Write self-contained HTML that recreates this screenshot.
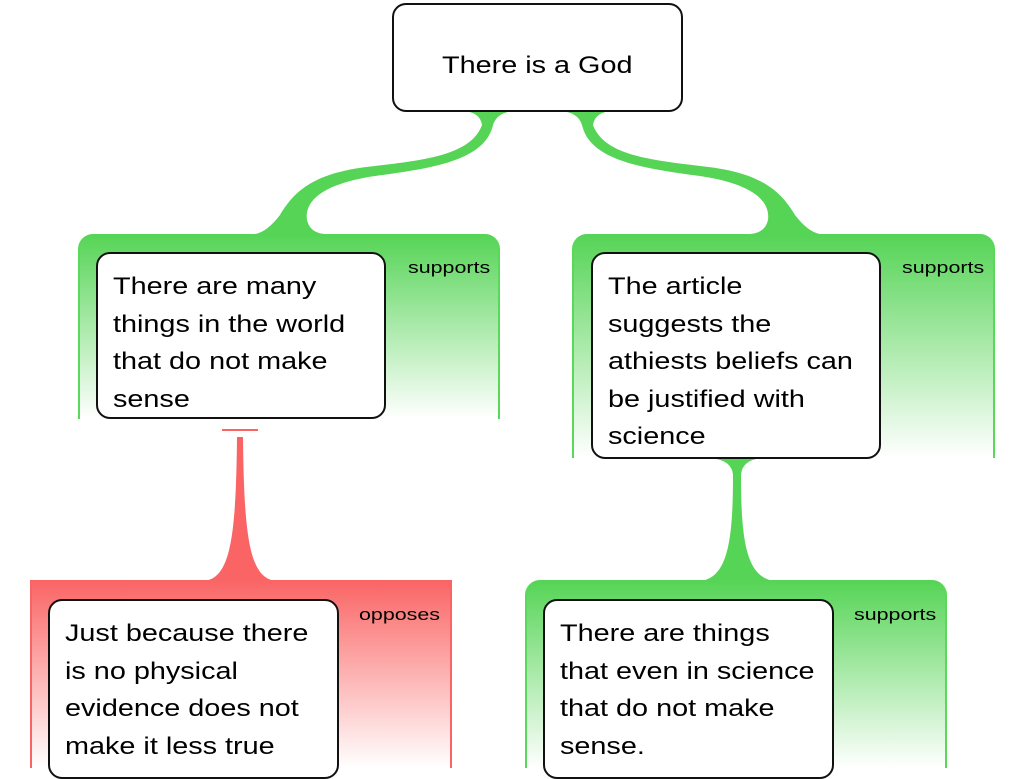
<!DOCTYPE html>
<html><head><style>
body{margin:0;width:1024px;height:768px;overflow:hidden;background:#fff;font-family:"Liberation Sans",sans-serif;position:relative}
.p{position:absolute;box-sizing:border-box}
.g{border-left:2px solid #5ad85a;border-right:2px solid #5ad85a;border-radius:15px 15px 0 0;background:linear-gradient(#55d455,#fff)}
.r{border-left:2px solid #fa6464;border-right:2px solid #fa6464;background:linear-gradient(#fa6464,#fff)}
.n{position:absolute;box-sizing:border-box;background:#fff;border:2px solid #111;border-radius:14px;font-size:24px;line-height:37.5px;padding:14px 0 0 15px;color:#000;white-space:nowrap}
.n span{display:inline-block;transform:scaleX(1.2);transform-origin:0 0}
.l{position:absolute;font-size:17px;color:#000;transform:scaleX(1.26);transform-origin:0 0}
</style></head><body>
<svg width="1024" height="768" style="position:absolute;left:0;top:0">
<g fill="#55d455">
<path id="rc" d="M560 111 Q578 112 582 125 C590 160 640 168 700 176 C760 185 770 205 768 220 Q765 233 750 234 L820 234 Q808 232 795 215 C780 190 760 172 700 166 C650 160 604 155 593 125 Q595 112 612 111 Z"/>
<use href="#rc" transform="translate(1075,0) scale(-1,1)"/>
<path d="M710 458 Q732 460 733 475 C733 540 728 578 700 581 L775 581 C746 578 741 540 741 475 Q742 460 762 458 Z"/>
</g>
<path fill="#fa6464" d="M237 437 L243 437 C244 540 250 578 276 581 L204 581 C230 578 236 540 237 437 Z"/>
<rect x="222" y="429" width="36" height="2" fill="#fa6464"/>
</svg>
<div class="p g" style="left:78px;top:234px;width:422px;height:185px"></div>
<div class="p g" style="left:572px;top:234px;width:423px;height:224px"></div>
<div class="p r" style="left:30px;top:580px;width:422px;height:188px"></div>
<div class="p g" style="left:525px;top:580px;width:422px;height:188px"></div>
<div class="n" style="left:392px;top:3px;width:291px;height:109px;padding:0 0 0 48px;line-height:121px"><span>There is a God</span></div>
<div class="n" style="left:96px;top:252px;width:290px;height:167px"><span>There are many<br>things in the world<br>that do not make<br>sense</span></div>
<div class="n" style="left:591px;top:252px;width:290px;height:207px"><span>The article<br>suggests the<br>athiests beliefs can<br>be justified with<br>science</span></div>
<div class="n" style="left:48px;top:599px;width:291px;height:180px"><span>Just because there<br>is no physical<br>evidence does not<br>make it less true</span></div>
<div class="n" style="left:543px;top:599px;width:291px;height:180px"><span>There are things<br>that even in science<br>that do not make<br>sense.</span></div>
<div class="l" style="left:408px;top:258px">supports</div>
<div class="l" style="left:902px;top:258px">supports</div>
<div class="l" style="left:359px;top:605px">opposes</div>
<div class="l" style="left:854px;top:605px">supports</div>
</body></html>
